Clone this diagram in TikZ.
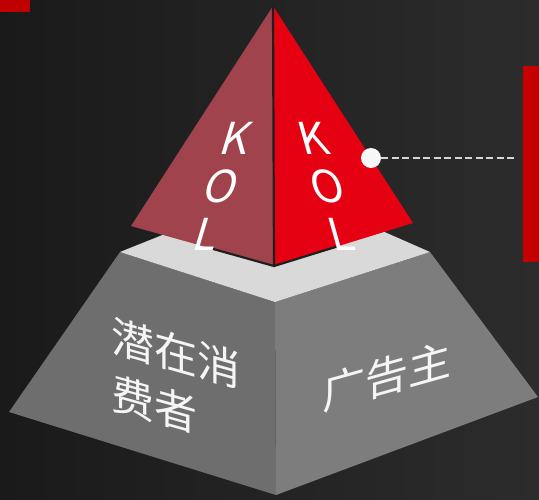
\documentclass[tikz,border=0pt]{standalone}
\usepackage{fontspec}
\usetikzlibrary{calc}
\setmainfont{Noto Sans CJK SC}
\definecolor{bgL}{HTML}{1A1A1A}
\definecolor{bgR}{HTML}{2C2C2C}
\definecolor{redA}{HTML}{C00000}
\definecolor{faceL}{HTML}{A0434C}
\definecolor{faceR}{HTML}{E50012}
\definecolor{topG}{HTML}{D9D9D9}
\definecolor{grayL}{HTML}{6E6E6E}
\definecolor{grayR}{HTML}{7D7D7D}
\definecolor{dashG}{HTML}{D6D6D6}
\begin{document}
\begin{tikzpicture}[x=1pt,y=-1pt,
  kol/.style={text=white,align=center,inner sep=0pt,font=\fontsize{44}{48}\selectfont},
  cn/.style={text=white!96!black,align=left,inner sep=0pt,font=\fontsize{43}{57}\selectfont},
  dot/.style={circle,fill=white!97!black,minimum size=20pt,inner sep=0pt},
  bar/.style={fill=redA,draw=none}]
% background
\shade[left color=bgL,right color=bgR] (0,0) rectangle (539,499);
\useasboundingbox (0,0) rectangle (539,499);
% red accents
\fill[redA] (0,0) rectangle (30,12);
\shade[left color=redA!85!red,right color=redA] (523,66) rectangle (539,261);
% base coordinates
\coordinate (tl) at (120,252);
\coordinate (tk) at (282,187);
\coordinate (tr) at (430,252);
\coordinate (tf) at (275,302);
\coordinate (bl) at (9,412);
\coordinate (bb) at (276,495);
\coordinate (br) at (538,397);
% base faces
\fill[grayL] (tl) -- (tf) -- (bb) -- (bl) -- cycle;
\fill[grayR] (tf) -- (tr) -- (br) -- (bb) -- cycle;
\fill[topG] (tl) -- (tk) -- (tr) -- (tf) -- cycle;
% KOL pyramid
\coordinate (ap) at (273,6);
\coordinate (kl) at (131,226);
\coordinate (kb) at (274,266);
\coordinate (kr) at (413,223);
\fill[faceL] (ap) -- (kl) -- (kb) -- cycle;
\fill[faceR] (ap) -- (kb) -- (kr) -- cycle;
\draw[black!88,line width=2.2pt] (ap) -- (kb);
\draw[black!88,line width=2.2pt,line join=miter] ($(kl)!0.55!(kb)$) -- (kb) -- ($(kr)!0.55!(kb)$);
% labels
\node[kol,xslant=0.3] (kolL) at (222,186) {K\\O\\L};
\node[kol,xslant=-0.28] (kolR) at (327,186) {K\\O\\L};
\node[cn,yslant=-0.28] (consumer) at (176,382) {潜在消\\费者};
\node[cn,yslant=0.28] (adv) at (387,376) {广告主};
% callout
\node[dot] (pin) at (371,158) {};
\coordinate (pinEnd) at (516,158);
\draw[dashG,line width=2.6pt,dash pattern=on 7pt off 3.5pt] (pin.east) -- (pinEnd);
\end{tikzpicture}
\end{document}
